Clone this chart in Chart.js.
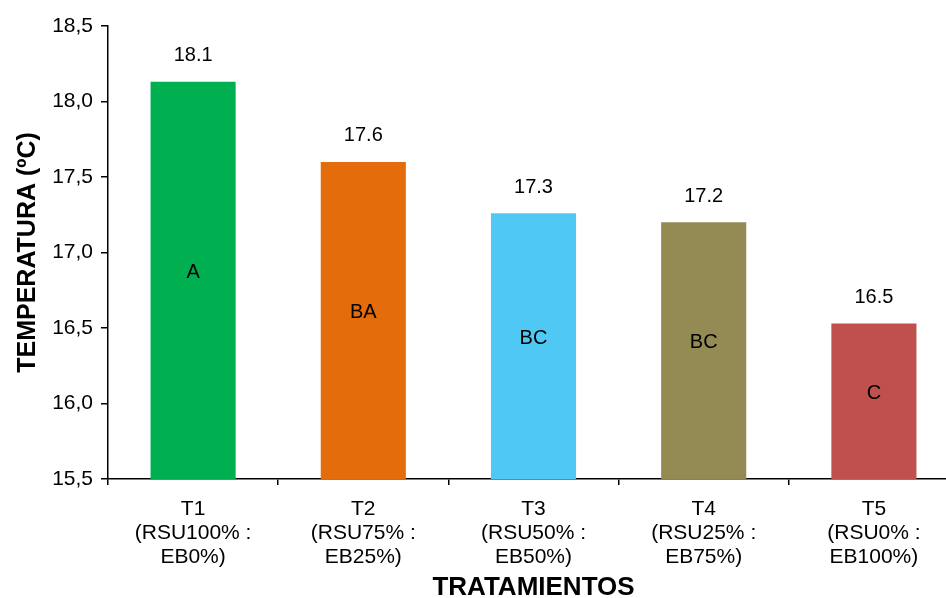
<!DOCTYPE html>
<html>
<head>
<meta charset="utf-8">
<script src="https://cdn.jsdelivr.net/npm/chart.js@4/dist/chart.umd.min.js"></script>
<style>
  html, body { margin: 0; padding: 0; background: #fff; overflow: hidden; width: 946px; height: 598px; }
  canvas { display: block; }
</style>
</head>
<body>
<canvas id="c" width="959" height="598"></canvas>
<script>
// Temperatura media por tratamiento
const tratamientos = [
  ['T1', '(RSU100% :', 'EB0%)'],
  ['T2', '(RSU75% :', 'EB25%)'],
  ['T3', '(RSU50% :', 'EB50%)'],
  ['T4', '(RSU25% :', 'EB75%)'],
  ['T5', '(RSU0% :', 'EB100%)']
];
const temperatura = [18.13, 17.60, 17.26, 17.20, 16.53];
const letras = ['A', 'BA', 'BC', 'BC', 'C'];
const colores = ['#00AF50', '#E46C0A', '#4FC8F4', '#948A54', '#C0504D'];
const yMin = 15.5, yMax = 18.5, yStep = 0.5;

const FONT = '"Liberation Sans", Arial, sans-serif';

// Etiquetas de valor sobre cada barra y letras de significancia dentro
const etiquetas = {
  id: 'etiquetas',
  afterDatasetsDraw(chart) {
    const ctx = chart.ctx;
    const meta = chart.getDatasetMeta(0);
    const base = chart.scales.y.getPixelForValue(yMin);
    ctx.save();
    ctx.fillStyle = '#000';
    ctx.textAlign = 'center';
    ctx.textBaseline = 'middle';
    ctx.font = '20px ' + FONT;
    meta.data.forEach((bar, i) => {
      const top = chart.scales.y.getPixelForValue(temperatura[i]);
      ctx.fillText(temperatura[i].toFixed(1), bar.x, top - 26);
      ctx.fillText(letras[i], bar.x, (top + base) / 2 - 8);
    });
    ctx.restore();
  }
};

new Chart(document.getElementById('c'), {
  type: 'bar',
  data: {
    labels: tratamientos,
    datasets: [{
      data: temperatura,
      backgroundColor: colores,
      borderWidth: 0,
      categoryPercentage: 1.0,
      barPercentage: 0.5
    }]
  },
  options: {
    responsive: false,
    animation: false,
    layout: { padding: { top: 26, left: 0, right: 0, bottom: 0 } },
    plugins: {
      legend: { display: false },
      tooltip: { enabled: false }
    },
    scales: {
      x: {
        offset: true,
        grid: {
          offset: true,
          drawOnChartArea: false,
          drawTicks: true,
          tickLength: 6,
          color: '#000',
          lineWidth: 1.5
        },
        border: { display: true, color: '#000', width: 1.5 },
        ticks: {
          color: '#000',
          padding: 12,
          maxRotation: 0,
          autoSkip: false,
          font: { family: FONT, size: 21, lineHeight: 1.15 }
        },
        title: {
          display: true,
          text: 'TRATAMIENTOS',
          color: '#000',
          font: { family: FONT, size: 26, weight: 'bold', lineHeight: 0.8 },
          padding: 0
        },
        afterFit(scale) { scale.height = 119; }
      },
      y: {
        min: yMin,
        max: yMax,
        grid: {
          drawOnChartArea: false,
          drawTicks: true,
          tickLength: 7,
          color: '#000',
          lineWidth: 1.5
        },
        border: { display: true, color: '#000', width: 1.5 },
        ticks: {
          stepSize: yStep,
          color: '#000',
          padding: 8,
          font: { family: FONT, size: 21 },
          callback: v => v.toFixed(1).replace('.', ',')
        },
        title: {
          display: true,
          text: 'TEMPERATURA (ºC)',
          color: '#000',
          font: { family: FONT, size: 25, weight: 'bold', lineHeight: 1.2 },
          padding: { top: 13, bottom: 0 }
        },
        afterFit(scale) { scale.width = 108; }
      }
    }
  },
  plugins: [etiquetas]
});
</script>
</body>
</html>
